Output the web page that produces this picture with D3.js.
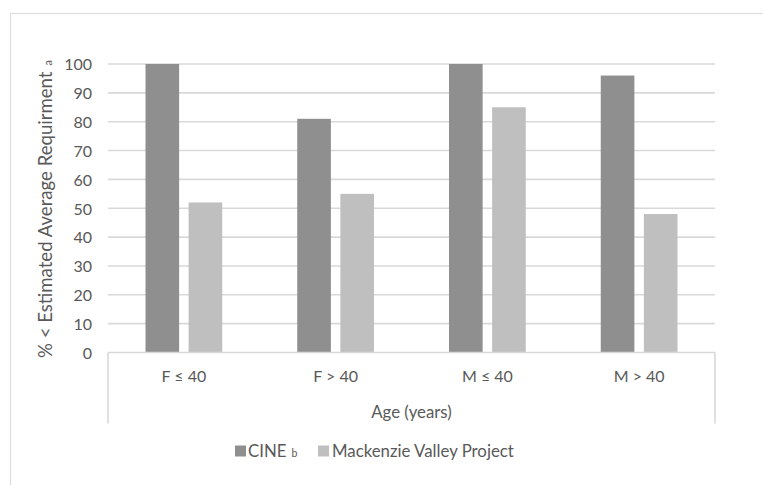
<!DOCTYPE html>
<html>
<head>
<meta charset="utf-8">
<script src="https://cdn.jsdelivr.net/npm/d3@7"></script>
<style>
  html, body { margin: 0; padding: 0; background: #fff; }
  svg { display: block; }
  text { font-family: Lato, "Open Sans", sans-serif; fill: #595959; }
</style>
</head>
<body>
<svg id="chart" width="763" height="485"></svg>
<script>
// Age / sex groups along the category axis
const categories = ["F \u2264 40", "F > 40", "M \u2264 40", "M > 40"];
// Percent below the Estimated Average Requirement
const cineValues = [100, 81, 100, 96];
const mackenzieValues = [52, 55, 85, 48];
const seriesNames = ["CINE", "Mackenzie Valley Project"];
const yTicks = [0, 10, 20, 30, 40, 50, 60, 70, 80, 90, 100];

const colors = { CINE: "#8f8f8f", "Mackenzie Valley Project": "#bfbfbf" };

const svg = d3.select("#chart");
const labelSize = "16.8px";
const tickSize = "16px";

// light chart-area frame
svg.append("rect")
  .attr("x", 10.5).attr("y", 13.5)
  .attr("width", 800).attr("height", 520)
  .attr("fill", "none").attr("stroke", "#dcdcdc").attr("stroke-width", 1.2);

const plot = { left: 108, right: 715, top: 64, bottom: 352.5 };

const x = d3.scaleBand().domain(categories)
  .range([plot.left, plot.right]).paddingInner(0).paddingOuter(0);
const inner = d3.scaleBand().domain(seriesNames)
  .range([37.5, x.bandwidth() - 37.5]).paddingInner(0.22);
const y = d3.scaleLinear().domain([0, 100]).range([plot.bottom, plot.top]);

// gridlines
svg.append("g").selectAll("line").data(yTicks.filter(d => d > 0)).join("line")
  .attr("x1", plot.left).attr("x2", plot.right)
  .attr("y1", d => y(d)).attr("y2", d => y(d))
  .attr("stroke", "#d9d9d9").attr("stroke-width", 1.6);

// y axis tick labels
const yAxis = d3.axisLeft(y).tickValues(yTicks).tickSize(0).tickPadding(16);
const gy = svg.append("g").attr("transform", `translate(${plot.left},0)`).call(yAxis);
gy.select(".domain").remove();
gy.selectAll("text").style("font-size", tickSize).attr("fill", "#595959")
  .attr("dy", "0.36em");

// bars
const rows = categories.map((c, i) => ({
  cat: c,
  vals: [
    { key: "CINE", v: cineValues[i] },
    { key: "Mackenzie Valley Project", v: mackenzieValues[i] }
  ]
}));
const groups = svg.append("g").selectAll("g").data(rows).join("g")
  .attr("transform", d => `translate(${x(d.cat)},0)`);
groups.selectAll("rect").data(d => d.vals).join("rect")
  .attr("x", d => inner(d.key))
  .attr("width", inner.bandwidth())
  .attr("y", d => y(d.v))
  .attr("height", d => y(0) - y(d.v))
  .attr("fill", d => colors[d.key]);

// category axis box
const boxBottom = 423.5;
const axisG = svg.append("g").attr("stroke", "#d9d9d9").attr("stroke-width", 1.6);
axisG.append("line").attr("x1", plot.left).attr("x2", plot.right)
  .attr("y1", plot.bottom).attr("y2", plot.bottom);
axisG.append("line").attr("x1", plot.left).attr("x2", plot.left)
  .attr("y1", plot.bottom).attr("y2", boxBottom);
axisG.append("line").attr("x1", plot.right).attr("x2", plot.right)
  .attr("y1", plot.bottom).attr("y2", boxBottom);

const xAxis = d3.axisBottom(x).tickSize(0).tickPadding(0);
const gx = svg.append("g").attr("transform", `translate(0,${plot.bottom})`).call(xAxis);
gx.select(".domain").remove();
gx.selectAll("text").style("font-size", tickSize).attr("fill", "#595959")
  .attr("y", 24).attr("dy", "0.36em");

// axis titles
svg.append("text")
  .attr("x", (plot.left + plot.right) / 2).attr("y", 412)
  .attr("dy", "0.36em").attr("text-anchor", "middle")
  .style("font-size", labelSize)
  .text("Age (years)");

const yt = svg.append("text")
  .attr("transform", "translate(45,209) rotate(-90)")
  .attr("dy", "0.36em").attr("text-anchor", "middle")
  .style("font-size", "18.6px");
yt.append("tspan").text("% < Estimated Average Requirment");
yt.append("tspan").attr("dx", 6).style("font-size", "11px").text("a");

// legend
const legend = svg.append("g").attr("transform", "translate(235,451)");
legend.append("rect").attr("x", 0).attr("y", -5.5).attr("width", 11).attr("height", 11)
  .attr("fill", colors.CINE);
const l1 = legend.append("text").attr("x", 13).attr("dy", "0.36em").style("font-size", labelSize);
l1.append("tspan").text("CINE");
l1.append("tspan").attr("dx", 5).style("font-size", "10.5px").text("b");
legend.append("rect").attr("x", 83).attr("y", -5.5).attr("width", 11).attr("height", 11)
  .attr("fill", colors["Mackenzie Valley Project"]);
legend.append("text").attr("x", 97).attr("dy", "0.36em").style("font-size", labelSize)
  .text("Mackenzie Valley Project");
</script>
</body>
</html>
